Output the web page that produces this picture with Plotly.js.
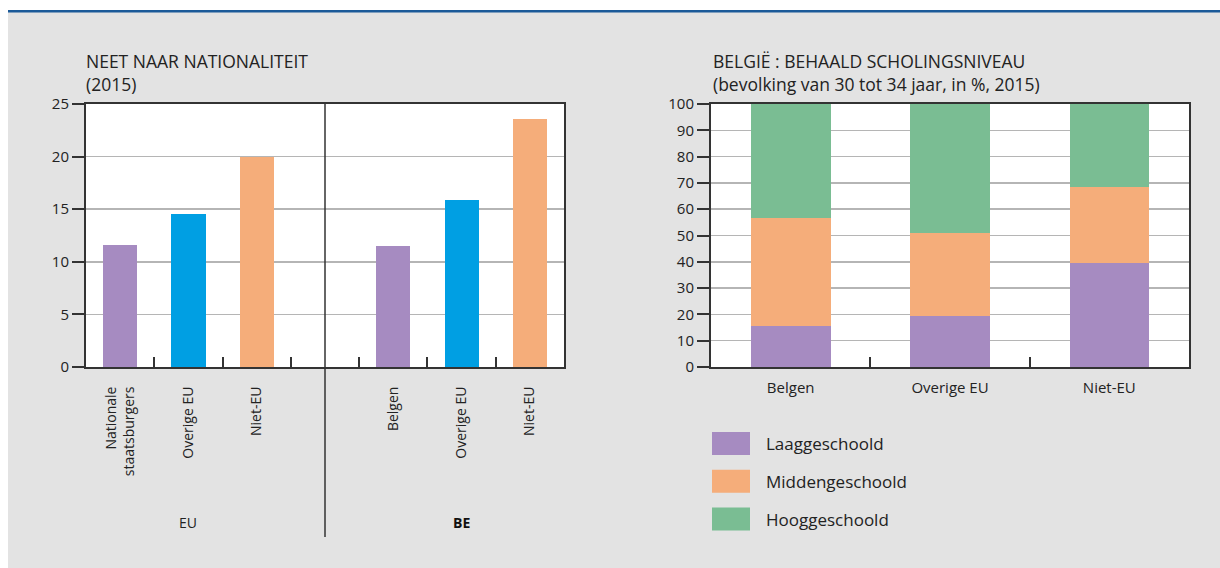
<!DOCTYPE html>
<html>
<head>
<meta charset="utf-8">
<script src="https://cdn.plot.ly/plotly-3.0.1.min.js"></script>
<style>
  html, body { margin: 0; padding: 0; background: #ffffff; }
  #chart { width: 1220px; height: 568px; }
</style>
</head>
<body>
<div id="chart"></div>
<script>
// ---------- DATA ----------
const neetTitle1 = "NEET NAAR NATIONALITEIT";
const neetTitle2 = "(2015)";
const neetGroups = ["EU", "<b>BE</b>"];
const neetEUCats = ["Nationale<br>staatsburgers", "Overige EU", "Niet-EU"];
const neetEUVals = [11.6, 14.5, 20.0];
const neetBECats = ["Belgen", "Overige EU", "Niet-EU"];
const neetBEVals = [11.5, 15.9, 23.6];
const neetColors = ["#a68bc1", "#009fe3", "#f5ad7a"];
const neetTicks = [0, 5, 10, 15, 20, 25];

const eduTitle1 = "BELGIË : BEHAALD SCHOLINGSNIVEAU";
const eduTitle2 = "(bevolking van 30 tot 34 jaar, in %, 2015)";
const eduCats = ["Belgen", "Overige EU", "Niet-EU"];
const eduSeries = ["Laaggeschoold", "Middengeschoold", "Hooggeschoold"];
const eduLaag = [15.6, 19.4, 39.5];
const eduMidden = [41.2, 31.7, 28.9];
const eduHoog = [43.2, 48.9, 31.6];
const eduColors = ["#a68bc1", "#f5ad7a", "#7abd93"];
const eduTicks = [0, 10, 20, 30, 40, 50, 60, 70, 80, 90, 100];

// ---------- LAYOUT HELPERS ----------
const W = 1220, H = 568;
const px = x => x / W;
const py = y => 1 - y / H;
const FONT = "Open Sans, Noto Sans, sans-serif";
const TXT = "#222222";
const AX = "#333333";
const GRID = "#b5b5b5";

// left chart positions derived from category indices
const nEU = neetEUCats.length;
const euPos = neetEUCats.map((_, i) => i);
const bePos = neetBECats.map((_, i) => nEU + 1 + i);
const nSlots = nEU + 1 + neetBECats.length;
const boundaries = [];
for (let i = 0; i < nSlots - 1; i++) boundaries.push(i + 0.5);

const traces = [
  {
    type: "bar", x: euPos, y: neetEUVals, xaxis: "x", yaxis: "y",
    marker: { color: neetColors }, width: 0.5, showlegend: false, hoverinfo: "x+y"
  },
  {
    type: "bar", x: bePos, y: neetBEVals, xaxis: "x", yaxis: "y",
    marker: { color: neetColors }, width: 0.5, showlegend: false, hoverinfo: "x+y"
  }
];
const eduVals = [eduLaag, eduMidden, eduHoog];
eduSeries.forEach((name, k) => {
  traces.push({
    type: "bar", name: name, x: eduCats, y: eduVals[k], xaxis: "x2", yaxis: "y2",
    marker: { color: eduColors[k] }, width: 0.5, showlegend: false
  });
});

const yDom = [py(367), py(104)];
const yAxisCommon = {
  domain: yDom, showgrid: true, gridcolor: GRID, gridwidth: 1.5,
  showline: true, linecolor: AX, linewidth: 2, mirror: true,
  ticks: "outside", ticklen: 12, tickwidth: 2, tickcolor: AX,
  zeroline: false, tickfont: { family: FONT, size: 15, color: TXT },
  fixedrange: true
};

const shapes = [
  // white top strip and left strip, blue rule
  { type: "rect", xref: "paper", yref: "paper", x0: 0, x1: 1, y0: py(10), y1: 1,
    fillcolor: "#ffffff", line: { width: 0 }, layer: "above" },
  { type: "rect", xref: "paper", yref: "paper", x0: 0, x1: px(8), y0: 0, y1: 1,
    fillcolor: "#ffffff", line: { width: 0 }, layer: "above" },
  { type: "rect", xref: "paper", yref: "paper", x0: px(8), x1: 1, y0: py(12.5), y1: py(10),
    fillcolor: "#1b5a99", line: { width: 0 }, layer: "above" },
  // divider between EU and BE groups
  { type: "line", xref: "x", yref: "paper", x0: nEU, x1: nEU, y0: py(537), y1: py(104),
    line: { color: AX, width: 1.5 }, layer: "above" }
];

const TITLE_SIZE = 17.5;
const annotations = [
  { text: neetTitle1 + "<br>" + neetTitle2, x: px(84), y: py(72), xref: "paper", yref: "paper",
    xanchor: "left", yanchor: "middle", align: "left",
    showarrow: false, font: { family: FONT, size: TITLE_SIZE, color: TXT } },
  { text: eduTitle1 + "<br>" + eduTitle2, x: px(711), y: py(72), xref: "paper", yref: "paper",
    xanchor: "left", yanchor: "middle", align: "left",
    showarrow: false, font: { family: FONT, size: TITLE_SIZE, color: TXT } },
  { text: neetGroups[0], x: (euPos[0] + euPos[euPos.length - 1]) / 2, xref: "x", y: py(522), yref: "paper",
    xanchor: "center", yanchor: "middle", showarrow: false, font: { family: FONT, size: 14, color: TXT } },
  { text: neetGroups[1], x: (bePos[0] + bePos[bePos.length - 1]) / 2, xref: "x", y: py(522), yref: "paper",
    xanchor: "center", yanchor: "middle", showarrow: false, font: { family: FONT, size: 14, color: "#111" } }
];

// custom legend
eduSeries.forEach((name, k) => {
  const cy = 443.5 + k * 37.8;
  shapes.push({ type: "rect", xref: "paper", yref: "paper", x0: px(712), x1: px(750),
    y0: py(cy + 11.5), y1: py(cy - 11.5), fillcolor: eduColors[k], line: { width: 0 }, layer: "above" });
  annotations.push({ text: name, x: px(764), y: py(cy), xref: "paper", yref: "paper",
    xanchor: "left", yanchor: "middle", showarrow: false,
    font: { family: FONT, size: 17, color: TXT } });
});

const layout = {
  width: W, height: H,
  margin: { l: 0, r: 0, t: 0, b: 0, pad: 0 },
  paper_bgcolor: "#e3e3e3",
  plot_bgcolor: "#ffffff",
  barmode: "stack",
  showlegend: false,
  font: { family: FONT, color: TXT },
  xaxis: {
    domain: [px(86), px(564)], anchor: "y", range: [-0.5, nSlots - 0.5],
    tickmode: "array", tickvals: euPos.concat(bePos), ticktext: neetEUCats.concat(neetBECats),
    tickangle: -90, ticks: "outside", ticklen: 12, tickcolor: "rgba(0,0,0,0)",
    minor: { tickmode: "array", tickvals: boundaries, ticks: "inside", ticklen: 10, tickwidth: 2,
             tickcolor: AX, showgrid: false },
    showline: true, linecolor: AX, linewidth: 2, mirror: true,
    showgrid: false, zeroline: false,
    tickfont: { family: FONT, size: 14, color: TXT }, fixedrange: true
  },
  yaxis: Object.assign({}, yAxisCommon, { anchor: "x", range: [0, 25], tickmode: "array", tickvals: neetTicks }),
  xaxis2: {
    domain: [px(711), px(1189)], anchor: "y2", type: "category",
    tickson: "boundaries", ticks: "inside", ticklen: 10, tickwidth: 2, tickcolor: AX,
    ticklabelstandoff: 6,
    showline: true, linecolor: AX, linewidth: 2, mirror: true,
    showgrid: false, zeroline: false,
    tickfont: { family: FONT, size: 15, color: TXT }, fixedrange: true
  },
  yaxis2: Object.assign({}, yAxisCommon, { anchor: "x2", range: [0, 100], tickmode: "array", tickvals: eduTicks }),
  shapes: shapes,
  annotations: annotations
};

Plotly.newPlot("chart", traces, layout, { displayModeBar: false, staticPlot: true });
</script>
</body>
</html>
